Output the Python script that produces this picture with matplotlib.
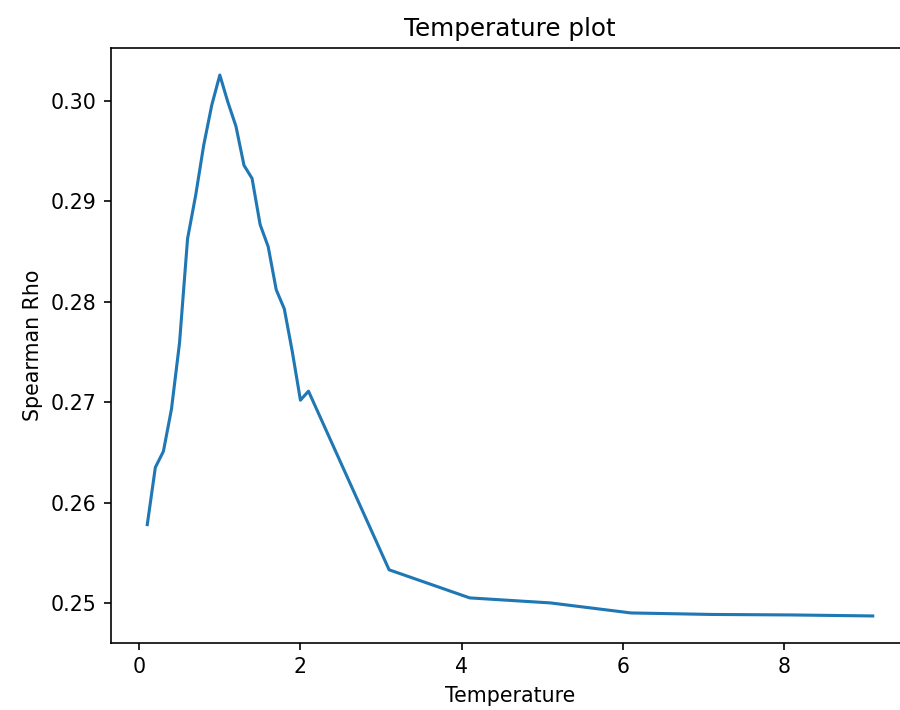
import matplotlib
matplotlib.use("Agg")
import matplotlib.pyplot as plt

temperatures = [0.1, 0.2, 0.3, 0.4, 0.5, 0.6, 0.7, 0.8, 0.9, 1.0,
                1.1, 1.2, 1.3, 1.4, 1.5, 1.6, 1.7, 1.8, 1.9, 2.0, 2.1,
                3.1, 4.1, 5.1, 6.1, 7.1, 8.1, 9.1]
spearman_rho = [0.2578, 0.2635, 0.2651, 0.2693, 0.2759, 0.2863, 0.2906, 0.2956, 0.2996, 0.3026,
                0.2999, 0.2975, 0.2936, 0.2923, 0.2877, 0.2855, 0.2812, 0.2793, 0.2750, 0.2702, 0.2711,
                0.2533, 0.2505, 0.2500, 0.2490, 0.24885, 0.2488, 0.2487]

dpi = 148
fig = plt.figure(figsize=(900 / dpi, 710 / dpi), dpi=dpi)
ax = fig.add_axes([111 / 900, 67 / 710, 798 / 900, 595 / 710])

ax.plot(temperatures, spearman_rho)

ax.set_title("Temperature plot")
ax.set_xlabel("Temperature")
ax.set_ylabel("Spearman Rho")

fig.savefig("out.png", dpi=dpi)
